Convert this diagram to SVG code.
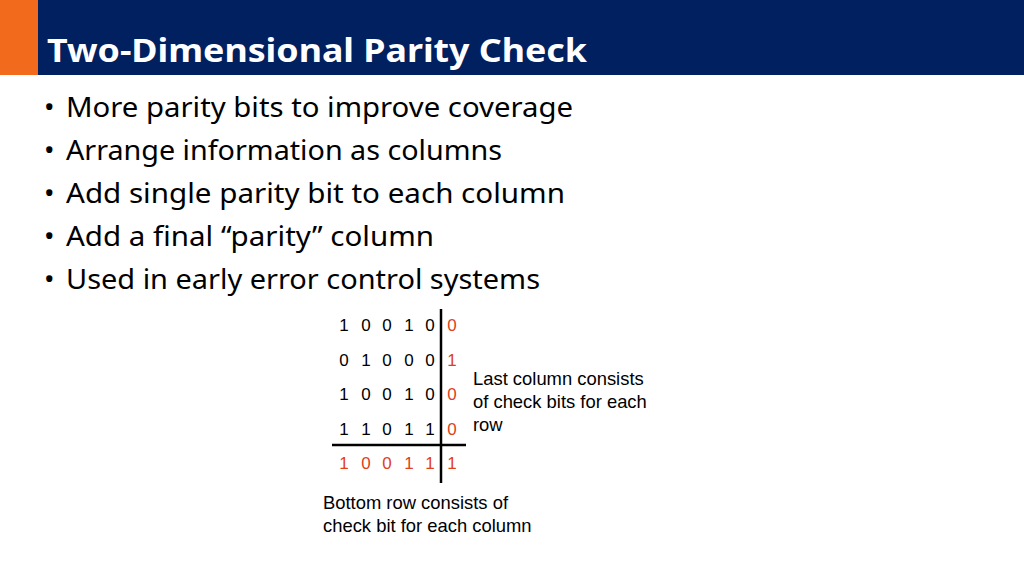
<svg xmlns="http://www.w3.org/2000/svg" width="1024" height="576" viewBox="0 0 1024 576">
<style>
.b{font-family:"Noto Sans",sans-serif;font-size:28px;fill:#000}
.d{font-family:"Liberation Sans",Arial,sans-serif;font-size:17px;fill:#000;text-anchor:middle}
.r{fill:#e0401a}
.n{font-family:"Liberation Sans",Arial,sans-serif;font-size:18.4px;fill:#000}
</style>
<rect width="1024" height="576" fill="#fff"/>
<g id="header">
<rect x="0" y="0" width="38" height="75" fill="#f26b1d"/>
<rect x="38" y="0" width="986" height="75" fill="#002060"/>
<text x="47" y="62" font-family="Noto Sans,sans-serif" font-size="33" font-weight="bold" fill="#fff" textLength="540" lengthAdjust="spacingAndGlyphs">Two-Dimensional Parity Check</text>
</g>
<g id="bullets">
<g class="b">
<text x="44" y="117">•</text><text x="44" y="160">•</text><text x="44" y="203">•</text><text x="44" y="246">•</text><text x="44" y="289">•</text>
</g>
<text class="b" x="66" y="117" textLength="507" lengthAdjust="spacingAndGlyphs">More parity bits to improve coverage</text>
<text class="b" x="66" y="160" textLength="436" lengthAdjust="spacingAndGlyphs">Arrange information as columns</text>
<text class="b" x="66" y="203" textLength="499" lengthAdjust="spacingAndGlyphs">Add single parity bit to each column</text>
<text class="b" x="66" y="246" textLength="368" lengthAdjust="spacingAndGlyphs">Add a final “parity” column</text>
<text class="b" x="66" y="289" textLength="474" lengthAdjust="spacingAndGlyphs">Used in early error control systems</text>
</g>
<g id="matrix">
<text class="d" y="331"><tspan x="344">1</tspan><tspan x="366">0</tspan><tspan x="387">0</tspan><tspan x="409">1</tspan><tspan x="430">0</tspan><tspan x="452" class="r">0</tspan></text>
<text class="d" y="366"><tspan x="344">0</tspan><tspan x="366">1</tspan><tspan x="387">0</tspan><tspan x="409">0</tspan><tspan x="430">0</tspan><tspan x="452" class="r">1</tspan></text>
<text class="d" y="400"><tspan x="344">1</tspan><tspan x="366">0</tspan><tspan x="387">0</tspan><tspan x="409">1</tspan><tspan x="430">0</tspan><tspan x="452" class="r">0</tspan></text>
<text class="d" y="435"><tspan x="344">1</tspan><tspan x="366">1</tspan><tspan x="387">0</tspan><tspan x="409">1</tspan><tspan x="430">1</tspan><tspan x="452" class="r">0</tspan></text>
<text class="d r" y="469"><tspan x="344">1</tspan><tspan x="366">0</tspan><tspan x="387">0</tspan><tspan x="409">1</tspan><tspan x="430">1</tspan><tspan x="452">1</tspan></text>
</g>
<g id="connectors" stroke="#000" stroke-width="2.5">
<line x1="441" y1="309" x2="441" y2="483"/>
<line x1="332" y1="445" x2="466" y2="445"/>
</g>
<g id="notes">
<text class="n" x="473" y="385">Last column consists</text>
<text class="n" x="473" y="408">of check bits for each</text>
<text class="n" x="473" y="431">row</text>
<text class="n" x="323" y="509">Bottom row consists of</text>
<text class="n" x="323" y="532">check bit for each column</text>
</g>
</svg>
